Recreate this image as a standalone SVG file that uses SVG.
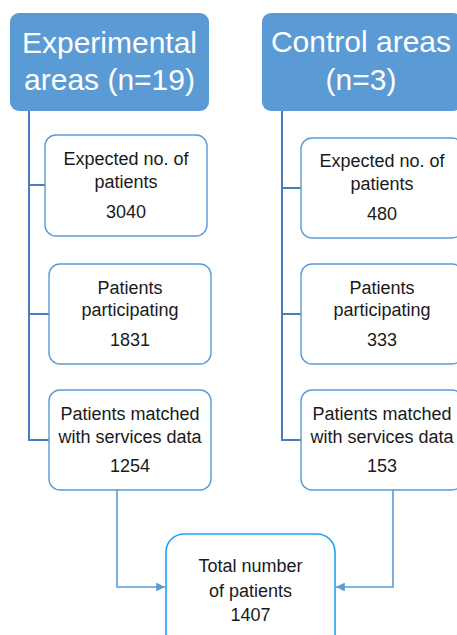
<svg xmlns="http://www.w3.org/2000/svg" width="457" height="635" viewBox="0 0 457 635">
  <style>
    .head { fill: #5B9BD5; }
    .head-text { font-family: "Liberation Sans", Arial, sans-serif; font-size: 30px; fill: #ffffff; text-anchor: middle; }
    .box { fill: #ffffff; stroke: #5B9BD5; stroke-width: 1.4; }
    .total { fill: #ffffff; stroke: #1CA3EC; stroke-width: 1.6; }
    .label { font-family: "Liberation Sans", Arial, sans-serif; font-size: 18px; fill: #1a1a1a; text-anchor: middle; }
    .tree { fill: none; stroke: #4A7EBB; stroke-width: 2; }
    .flow { fill: none; stroke: #5B9BD5; stroke-width: 1.6; }
  </style>
  <defs>
    <marker id="arrow" viewBox="0 0 10 10" refX="10" refY="5" markerWidth="5.5" markerHeight="5.5" orient="auto" markerUnits="strokeWidth">
      <path d="M0,0 L10,5 L0,10 z" fill="#5B9BD5"/>
    </marker>
  </defs>

  <rect width="457" height="635" fill="#ffffff"/>

  <!-- connectors -->
  <g id="connectors">
    <path class="tree" d="M29,111 V441 M29,185 H45 M29,314 H49 M29,440 H49"/>
    <path class="tree" d="M282,111 V441 M282,188 H301 M282,314 H301 M282,440 H301"/>
    <path class="flow" d="M117,490 V587 H165" marker-end="url(#arrow)"/>
    <path class="flow" d="M393,490 V587 H336" marker-end="url(#arrow)"/>
  </g>

  <!-- experimental arm -->
  <g id="exp-header">
    <rect class="head" x="10" y="13" width="199" height="98" rx="9"/>
    <text class="head-text" x="109.5" y="53">Experimental</text>
    <text class="head-text" x="109.5" y="90">areas (n=19)</text>
  </g>
  <g id="exp-expected">
    <rect class="box" x="45" y="135" width="162" height="101" rx="11"/>
    <text class="label" x="126" y="165">Expected no. of</text>
    <text class="label" x="126" y="188">patients</text>
    <text class="label" x="126" y="218">3040</text>
  </g>
  <g id="exp-participating">
    <rect class="box" x="49" y="264" width="162" height="100" rx="11"/>
    <text class="label" x="130" y="294">Patients</text>
    <text class="label" x="130" y="316">participating</text>
    <text class="label" x="130" y="346">1831</text>
  </g>
  <g id="exp-matched">
    <rect class="box" x="49" y="390" width="162" height="100" rx="11"/>
    <text class="label" x="130" y="420">Patients matched</text>
    <text class="label" x="130" y="443">with services data</text>
    <text class="label" x="130" y="472">1254</text>
  </g>

  <!-- control arm -->
  <g id="ctl-header">
    <rect class="head" x="262" y="13" width="200" height="98" rx="9"/>
    <text class="head-text" x="361" y="52">Control areas</text>
    <text class="head-text" x="361" y="90">(n=3)</text>
  </g>
  <g id="ctl-expected">
    <rect class="box" x="301" y="138" width="162" height="100" rx="11"/>
    <text class="label" x="382" y="167">Expected no. of</text>
    <text class="label" x="382" y="190">patients</text>
    <text class="label" x="382" y="220">480</text>
  </g>
  <g id="ctl-participating">
    <rect class="box" x="301" y="264" width="162" height="100" rx="11"/>
    <text class="label" x="382" y="294">Patients</text>
    <text class="label" x="382" y="316">participating</text>
    <text class="label" x="382" y="346">333</text>
  </g>
  <g id="ctl-matched">
    <rect class="box" x="301" y="390" width="162" height="100" rx="11"/>
    <text class="label" x="382" y="420">Patients matched</text>
    <text class="label" x="382" y="443">with services data</text>
    <text class="label" x="382" y="472">153</text>
  </g>

  <!-- combined total -->
  <g id="total">
    <rect class="total" x="166" y="534" width="169" height="120" rx="18"/>
    <text class="label" x="250.5" y="572">Total number</text>
    <text class="label" x="250.5" y="597">of patients</text>
    <text class="label" x="250.5" y="621">1407</text>
  </g>
</svg>
